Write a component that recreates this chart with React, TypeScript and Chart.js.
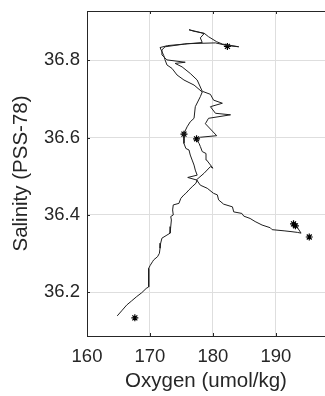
import React, { useEffect, useRef } from "react";
import { Chart, registerables } from "chart.js";

Chart.register(...registerables);

// Profile trace (oxygen vs salinity), in path order
const OXYGEN = [
  193.4, 194.0, 193.4, 192.4, 191.3, 189.4, 189.1, 187.8, 186.7, 185.9,
  184.9, 184.6, 183.3, 183.1, 181.7, 180.9, 180.7, 180.1, 179.1, 178.0,
  177.4, 178.6, 179.6, 180.0, 179.0, 178.9, 178.3, 178.0, 177.8, 177.4,
  178.0, 180.6, 178.8, 179.3, 182.8, 180.4, 179.6, 181.5, 180.1, 179.6,
  178.3, 177.5, 176.4, 175.1, 174.0, 175.6, 172.7, 171.9, 171.9, 172.4,
  175.9, 180.4, 182.3, 184.1, 181.5, 180.6, 179.3, 178.6, 177.0, 176.2,
  177.5, 178.6, 178.0, 178.3, 175.5, 172.8, 171.6, 172.2, 172.4, 172.7,
  173.5, 174.3, 175.4, 177.0, 178.3, 178.0, 177.2, 177.0, 176.4, 175.9,
  175.4, 175.4, 175.7, 176.2, 176.4, 176.7, 177.0, 177.2, 177.5, 176.0,
  177.5, 177.3, 176.7, 176.2, 175.7, 175.4, 174.9, 174.6, 173.7, 173.6,
  173.7, 173.3, 173.4, 173.3, 173.2, 172.7, 171.9, 171.7, 171.6, 171.5,
  171.2, 170.6, 170.4, 170.05, 169.8, 169.8, 169.4, 168.7, 167.9, 167.1,
  166.3, 165.5, 164.8,
];
const SALINITY = [
  36.368, 36.353, 36.355, 36.357, 36.359, 36.362, 36.367, 36.374, 36.383, 36.391,
  36.397, 36.404, 36.408, 36.421, 36.428, 36.439, 36.452, 36.456, 36.469, 36.477,
  36.491, 36.508, 36.525, 36.521, 36.542, 36.559, 36.564, 36.577, 36.585, 36.594,
  36.601, 36.605, 36.636, 36.650, 36.659, 36.663, 36.680, 36.689, 36.697, 36.712,
  36.720, 36.749, 36.766, 36.783, 36.792, 36.795, 36.801, 36.814, 36.827, 36.835,
  36.843, 36.845, 36.838, 36.835, 36.842, 36.848, 36.861, 36.870, 36.875, 36.879,
  36.874, 36.869, 36.858, 36.846, 36.842, 36.838, 36.833, 36.812, 36.801, 36.788,
  36.779, 36.762, 36.749, 36.736, 36.718, 36.706, 36.680, 36.650, 36.641, 36.628,
  36.611, 36.585, 36.572, 36.568, 36.555, 36.542, 36.529, 36.516, 36.503, 36.497,
  36.490, 36.482, 36.473, 36.465, 36.456, 36.452, 36.443, 36.430, 36.426, 36.413,
  36.400, 36.396, 36.387, 36.370, 36.353, 36.348, 36.340, 36.327, 36.314, 36.301,
  36.292, 36.284, 36.279, 36.270, 36.262, 36.214, 36.210, 36.199, 36.189, 36.178,
  36.167, 36.152, 36.139,
];

// Bottle samples (asterisks)
const BOTTLE_OXYGEN = [167.6, 192.8, 193.1, 195.3, 175.4, 177.4, 182.3];
const BOTTLE_SALINITY = [36.134, 36.377, 36.372, 36.343, 36.609, 36.597, 36.836];

const X_TICKS = [160, 170, 180, 190];
const Y_TICKS = [36.2, 36.4, 36.6, 36.8];
const X_MIN = 160;
const X_MAX = 197.8;
const Y_MIN = 36.087;
const Y_MAX = 36.9275;

const AXIS_COLOR = "#262626";
const GRID_COLOR = "#dedede";
const FONT = "'Liberation Sans', Arial, Helvetica, sans-serif";

const boxPlugin = {
  id: "boxAndInnerTicks",
  afterDraw(chart: any) {
    const { ctx, chartArea } = chart;
    const xs = chart.scales.x;
    const ys = chart.scales.y;
    ctx.save();
    ctx.strokeStyle = AXIS_COLOR;
    ctx.lineWidth = 1;
    ctx.beginPath();
    ctx.moveTo(chartArea.left, chartArea.top + 0.5);
    ctx.lineTo(chartArea.right, chartArea.top + 0.5);
    const tl = 3;
    X_TICKS.forEach((v) => {
      const px = Math.round(xs.getPixelForValue(v)) + 0.5;
      ctx.moveTo(px, chartArea.bottom);
      ctx.lineTo(px, chartArea.bottom - tl);
      ctx.moveTo(px, chartArea.top);
      ctx.lineTo(px, chartArea.top + tl);
    });
    Y_TICKS.forEach((v) => {
      const py = Math.round(ys.getPixelForValue(v)) + 0.5;
      ctx.moveTo(chartArea.left, py);
      ctx.lineTo(chartArea.left + tl, py);
    });
    ctx.stroke();
    ctx.restore();
  },
};

export default function App() {
  const canvasRef = useRef<HTMLCanvasElement | null>(null);

  useEffect(() => {
    const canvas = canvasRef.current;
    if (!canvas) return;
    const lineData = OXYGEN.map((x, i) => ({ x, y: SALINITY[i] }));
    const bottleData = BOTTLE_OXYGEN.map((x, i) => ({ x, y: BOTTLE_SALINITY[i] }));

    const chart = new Chart(canvas, {
      type: "scatter",
      data: {
        datasets: [
          {
            data: lineData,
            showLine: true,
            borderColor: "#1e1e1e",
            borderWidth: 1,
            pointRadius: 0,
            tension: 0,
            fill: false,
          },
          {
            data: bottleData,
            showLine: false,
            pointStyle: "star",
            pointRadius: 3.5,
            borderColor: "#000000",
            backgroundColor: "#000000",
            pointBorderWidth: 1.2,
          },
        ],
      },
      options: {
        responsive: false,
        animation: false,
        layout: { autoPadding: false, padding: { top: 11, right: 0, left: 0, bottom: 0 } },
        plugins: {
          legend: { display: false },
          tooltip: { enabled: false },
        },
        scales: {
          x: {
            type: "linear",
            min: X_MIN,
            max: X_MAX,
            afterBuildTicks: (scale: any) => {
              scale.ticks = X_TICKS.map((v) => ({ value: v }));
            },
            afterFit: (scale: any) => {
              scale.height = 60;
              scale.paddingLeft = 0;
              scale.paddingRight = 0;
            },
            grid: { color: GRID_COLOR, drawTicks: false, lineWidth: 1 },
            border: { color: AXIS_COLOR, width: 1 },
            ticks: {
              padding: 10,
              color: AXIS_COLOR,
              font: { family: FONT, size: 18.5 },
              maxRotation: 0,
              callback: (v: any) => String(v),
            },
            title: {
              display: true,
              text: "Oxygen (umol/kg)",
              color: AXIS_COLOR,
              font: { family: FONT, size: 20.5 },
              padding: { top: 0, bottom: 2 },
            },
          },
          y: {
            type: "linear",
            min: Y_MIN,
            max: Y_MAX,
            afterBuildTicks: (scale: any) => {
              scale.ticks = Y_TICKS.map((v) => ({ value: v }));
            },
            afterFit: (scale: any) => {
              scale.width = 87;
              scale.paddingTop = 0;
              scale.paddingBottom = 0;
            },
            grid: { color: GRID_COLOR, drawTicks: false, lineWidth: 1 },
            border: { color: AXIS_COLOR, width: 1 },
            ticks: {
              padding: 7,
              color: AXIS_COLOR,
              font: { family: FONT, size: 18.5 },
              callback: (v: any) => Number(v).toFixed(1),
            },
            title: {
              display: true,
              text: "Salinity (PSS-78)",
              color: AXIS_COLOR,
              font: { family: FONT, size: 20.5 },
              padding: { top: 9, bottom: 0 },
            },
          },
        },
      },
      plugins: [boxPlugin],
    });

    return () => chart.destroy();
  }, []);

  return (
    <div
      style={{
        position: "fixed",
        left: 0,
        top: 0,
        width: 325,
        height: 396,
        background: "#ffffff",
        overflow: "hidden",
      }}
    >
      <canvas ref={canvasRef} width={325} height={396} style={{ display: "block" }} />
    </div>
  );
}
